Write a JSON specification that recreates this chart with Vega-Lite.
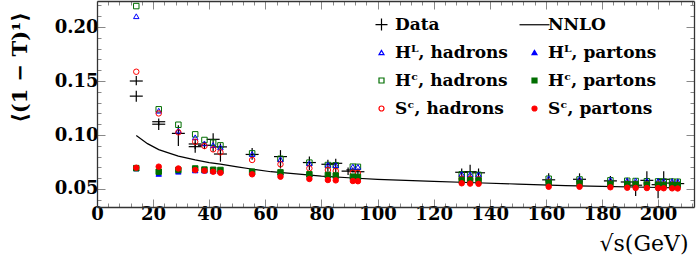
{
  "$schema": "https://vega.github.io/schema/vega-lite/v6.json",
  "width": 597,
  "height": 206,
  "autosize": {"type": "none"},
  "padding": {"left": 97, "top": 1, "right": 3, "bottom": 58},
  "background": "white",
  "config": {
    "view": {"stroke": null},
    "axis": {"domainColor": "#333", "domainWidth": 1.3, "tickColor": "#888", "tickWidth": 1, "labelFont": "DejaVu Serif", "labelFontWeight": "bold", "labelFontSize": 18, "labelColor": "black", "grid": false, "labelOverlap": false, "labelFlush": false, "titleColor": "black"},
    "legend": {"orient": "none", "legendX": 276, "legendY": 15, "columns": 2, "direction": "horizontal", "padding": 0, "symbolSize": 25, "symbolStrokeWidth": 1.2, "symbolOpacity": 1, "labelFont": "DejaVu Serif", "labelFontWeight": "bold", "labelFontSize": 17, "labelColor": "black", "labelOffset": 5, "rowPadding": 10, "columnPadding": 9, "labelLimit": 300}
  },
  "datasets": {
    "nnlo": [
      {"E": 14, "v": 0.0995}, {"E": 18, "v": 0.0920}, {"E": 22, "v": 0.0865}, {"E": 26, "v": 0.0830}, {"E": 29, "v": 0.0805},
      {"E": 35, "v": 0.0770}, {"E": 40, "v": 0.0745}, {"E": 44, "v": 0.0730}, {"E": 50, "v": 0.0705}, {"E": 55, "v": 0.0685},
      {"E": 62, "v": 0.0660}, {"E": 70, "v": 0.0642}, {"E": 80, "v": 0.0620}, {"E": 91.2, "v": 0.0602}, {"E": 100, "v": 0.0590},
      {"E": 120, "v": 0.0570}, {"E": 135, "v": 0.0558}, {"E": 150, "v": 0.0546}, {"E": 167, "v": 0.0532}, {"E": 180, "v": 0.0524},
      {"E": 200, "v": 0.0514}, {"E": 207, "v": 0.0510}
    ],
    "exp": [
      {"E": 14, "v": 0.150, "lo": 0.146, "hi": 0.1546},
      {"E": 14, "v": 0.136, "lo": 0.1308, "hi": 0.141},
      {"E": 22, "v": 0.1123, "lo": 0.1087, "hi": 0.1154},
      {"E": 22, "v": 0.110, "lo": 0.1046, "hi": 0.113},
      {"E": 29, "v": 0.1015, "lo": 0.0898, "hi": 0.109},
      {"E": 35, "v": 0.0917, "lo": 0.087, "hi": 0.096},
      {"E": 35, "v": 0.0892, "lo": 0.0836, "hi": 0.093},
      {"E": 38.3, "v": 0.0905, "lo": 0.087, "hi": 0.094},
      {"E": 41.4, "v": 0.096, "lo": 0.0845, "hi": 0.1016},
      {"E": 44, "v": 0.089, "lo": 0.085, "hi": 0.0923},
      {"E": 44, "v": 0.0824, "lo": 0.0753, "hi": 0.086},
      {"E": 55.3, "v": 0.082, "lo": 0.077, "hi": 0.088},
      {"E": 65.4, "v": 0.080, "lo": 0.069, "hi": 0.086},
      {"E": 75.7, "v": 0.0745, "lo": 0.0676, "hi": 0.080},
      {"E": 82.3, "v": 0.0729, "lo": 0.066, "hi": 0.077},
      {"E": 85.1, "v": 0.0738, "lo": 0.065, "hi": 0.078},
      {"E": 89.5, "v": 0.0665, "lo": 0.063, "hi": 0.070},
      {"E": 91.2, "v": 0.0677, "lo": 0.0655, "hi": 0.070},
      {"E": 93, "v": 0.066, "lo": 0.063, "hi": 0.069},
      {"E": 130, "v": 0.0655, "lo": 0.062, "hi": 0.069},
      {"E": 133, "v": 0.066, "lo": 0.0585, "hi": 0.0725},
      {"E": 136, "v": 0.065, "lo": 0.061, "hi": 0.069},
      {"E": 161, "v": 0.0585, "lo": 0.0525, "hi": 0.0645},
      {"E": 172, "v": 0.059, "lo": 0.053, "hi": 0.0645},
      {"E": 183, "v": 0.0575, "lo": 0.0535, "hi": 0.062},
      {"E": 189, "v": 0.0565, "lo": 0.053, "hi": 0.0605},
      {"E": 192, "v": 0.0535, "lo": 0.0435, "hi": 0.058},
      {"E": 196, "v": 0.058, "lo": 0.0525, "hi": 0.0665},
      {"E": 200, "v": 0.054, "lo": 0.0415, "hi": 0.060},
      {"E": 202, "v": 0.059, "lo": 0.054, "hi": 0.0665},
      {"E": 205, "v": 0.0555, "lo": 0.0515, "hi": 0.060},
      {"E": 207, "v": 0.055, "lo": 0.0505, "hi": 0.0595}
    ],
    "mc": [
      {"E": 14, "series": "Hᶜ, hadrons", "v": 0.2194}, {"E": 22, "series": "Hᶜ, hadrons", "v": 0.1238}, {"E": 29, "series": "Hᶜ, hadrons", "v": 0.1095},
      {"E": 35, "series": "Hᶜ, hadrons", "v": 0.1006}, {"E": 38.3, "series": "Hᶜ, hadrons", "v": 0.0954}, {"E": 41.4, "series": "Hᶜ, hadrons", "v": 0.0929},
      {"E": 44, "series": "Hᶜ, hadrons", "v": 0.0904}, {"E": 55.3, "series": "Hᶜ, hadrons", "v": 0.0830}, {"E": 65.4, "series": "Hᶜ, hadrons", "v": 0.0780},
      {"E": 75.7, "series": "Hᶜ, hadrons", "v": 0.0744}, {"E": 82.3, "series": "Hᶜ, hadrons", "v": 0.0722}, {"E": 85.1, "series": "Hᶜ, hadrons", "v": 0.0719},
      {"E": 91.2, "series": "Hᶜ, hadrons", "v": 0.0707}, {"E": 93, "series": "Hᶜ, hadrons", "v": 0.0705}, {"E": 130, "series": "Hᶜ, hadrons", "v": 0.0636},
      {"E": 133, "series": "Hᶜ, hadrons", "v": 0.0633}, {"E": 136, "series": "Hᶜ, hadrons", "v": 0.0631}, {"E": 161, "series": "Hᶜ, hadrons", "v": 0.0595},
      {"E": 172, "series": "Hᶜ, hadrons", "v": 0.0588}, {"E": 183, "series": "Hᶜ, hadrons", "v": 0.0580}, {"E": 189, "series": "Hᶜ, hadrons", "v": 0.0576},
      {"E": 192, "series": "Hᶜ, hadrons", "v": 0.0574}, {"E": 196, "series": "Hᶜ, hadrons", "v": 0.0572}, {"E": 200, "series": "Hᶜ, hadrons", "v": 0.0570},
      {"E": 202, "series": "Hᶜ, hadrons", "v": 0.0569}, {"E": 205, "series": "Hᶜ, hadrons", "v": 0.0568}, {"E": 207, "series": "Hᶜ, hadrons", "v": 0.0567},

      {"E": 14, "series": "Hᴸ, hadrons", "v": 0.2100}, {"E": 22, "series": "Hᴸ, hadrons", "v": 0.1225}, {"E": 29, "series": "Hᴸ, hadrons", "v": 0.1040},
      {"E": 35, "series": "Hᴸ, hadrons", "v": 0.0979}, {"E": 38.3, "series": "Hᴸ, hadrons", "v": 0.0923}, {"E": 41.4, "series": "Hᴸ, hadrons", "v": 0.0907},
      {"E": 44, "series": "Hᴸ, hadrons", "v": 0.0886}, {"E": 55.3, "series": "Hᴸ, hadrons", "v": 0.0824}, {"E": 65.4, "series": "Hᴸ, hadrons", "v": 0.0775},
      {"E": 75.7, "series": "Hᴸ, hadrons", "v": 0.0738}, {"E": 82.3, "series": "Hᴸ, hadrons", "v": 0.0725}, {"E": 85.1, "series": "Hᴸ, hadrons", "v": 0.0722},
      {"E": 91.2, "series": "Hᴸ, hadrons", "v": 0.0707}, {"E": 93, "series": "Hᴸ, hadrons", "v": 0.0705}, {"E": 130, "series": "Hᴸ, hadrons", "v": 0.0639},
      {"E": 133, "series": "Hᴸ, hadrons", "v": 0.0636}, {"E": 136, "series": "Hᴸ, hadrons", "v": 0.0634}, {"E": 161, "series": "Hᴸ, hadrons", "v": 0.0599},
      {"E": 172, "series": "Hᴸ, hadrons", "v": 0.0593}, {"E": 183, "series": "Hᴸ, hadrons", "v": 0.0585}, {"E": 189, "series": "Hᴸ, hadrons", "v": 0.0580},
      {"E": 192, "series": "Hᴸ, hadrons", "v": 0.0578}, {"E": 196, "series": "Hᴸ, hadrons", "v": 0.0576}, {"E": 200, "series": "Hᴸ, hadrons", "v": 0.0574},
      {"E": 202, "series": "Hᴸ, hadrons", "v": 0.0573}, {"E": 205, "series": "Hᴸ, hadrons", "v": 0.0572}, {"E": 207, "series": "Hᴸ, hadrons", "v": 0.0571},

      {"E": 14, "series": "Sᶜ, hadrons", "v": 0.1586}, {"E": 22, "series": "Sᶜ, hadrons", "v": 0.1200}, {"E": 29, "series": "Sᶜ, hadrons", "v": 0.1025},
      {"E": 35, "series": "Sᶜ, hadrons", "v": 0.0938}, {"E": 38.3, "series": "Sᶜ, hadrons", "v": 0.0898}, {"E": 41.4, "series": "Sᶜ, hadrons", "v": 0.0867},
      {"E": 44, "series": "Sᶜ, hadrons", "v": 0.0840}, {"E": 55.3, "series": "Sᶜ, hadrons", "v": 0.0769}, {"E": 65.4, "series": "Sᶜ, hadrons", "v": 0.0729},
      {"E": 75.7, "series": "Sᶜ, hadrons", "v": 0.0691}, {"E": 82.3, "series": "Sᶜ, hadrons", "v": 0.0676}, {"E": 85.1, "series": "Sᶜ, hadrons", "v": 0.0667},
      {"E": 91.2, "series": "Sᶜ, hadrons", "v": 0.0651}, {"E": 93, "series": "Sᶜ, hadrons", "v": 0.0650}, {"E": 130, "series": "Sᶜ, hadrons", "v": 0.0595},
      {"E": 133, "series": "Sᶜ, hadrons", "v": 0.0592}, {"E": 136, "series": "Sᶜ, hadrons", "v": 0.0590}, {"E": 161, "series": "Sᶜ, hadrons", "v": 0.0565},
      {"E": 172, "series": "Sᶜ, hadrons", "v": 0.0558}, {"E": 183, "series": "Sᶜ, hadrons", "v": 0.0550}, {"E": 189, "series": "Sᶜ, hadrons", "v": 0.0547},
      {"E": 192, "series": "Sᶜ, hadrons", "v": 0.0545}, {"E": 196, "series": "Sᶜ, hadrons", "v": 0.0543}, {"E": 200, "series": "Sᶜ, hadrons", "v": 0.0541},
      {"E": 202, "series": "Sᶜ, hadrons", "v": 0.0540}, {"E": 205, "series": "Sᶜ, hadrons", "v": 0.0539}, {"E": 207, "series": "Sᶜ, hadrons", "v": 0.0538},

      {"E": 14, "series": "Hᴸ, partons", "v": 0.0690}, {"E": 22, "series": "Hᴸ, partons", "v": 0.0640}, {"E": 29, "series": "Hᴸ, partons", "v": 0.0660},
      {"E": 35, "series": "Hᴸ, partons", "v": 0.0672}, {"E": 38.3, "series": "Hᴸ, partons", "v": 0.0670}, {"E": 41.4, "series": "Hᴸ, partons", "v": 0.0668},
      {"E": 44, "series": "Hᴸ, partons", "v": 0.0665}, {"E": 55.3, "series": "Hᴸ, partons", "v": 0.0660}, {"E": 65.4, "series": "Hᴸ, partons", "v": 0.0650},
      {"E": 75.7, "series": "Hᴸ, partons", "v": 0.0632}, {"E": 82.3, "series": "Hᴸ, partons", "v": 0.0626}, {"E": 85.1, "series": "Hᴸ, partons", "v": 0.0622},
      {"E": 91.2, "series": "Hᴸ, partons", "v": 0.0612}, {"E": 93, "series": "Hᴸ, partons", "v": 0.0610}, {"E": 130, "series": "Hᴸ, partons", "v": 0.0580},
      {"E": 133, "series": "Hᴸ, partons", "v": 0.0578}, {"E": 136, "series": "Hᴸ, partons", "v": 0.0576}, {"E": 161, "series": "Hᴸ, partons", "v": 0.0556},
      {"E": 172, "series": "Hᴸ, partons", "v": 0.0550}, {"E": 183, "series": "Hᴸ, partons", "v": 0.0545}, {"E": 189, "series": "Hᴸ, partons", "v": 0.0542},
      {"E": 192, "series": "Hᴸ, partons", "v": 0.0540}, {"E": 196, "series": "Hᴸ, partons", "v": 0.0538}, {"E": 200, "series": "Hᴸ, partons", "v": 0.0536},
      {"E": 202, "series": "Hᴸ, partons", "v": 0.0535}, {"E": 205, "series": "Hᴸ, partons", "v": 0.0534}, {"E": 207, "series": "Hᴸ, partons", "v": 0.0533},

      {"E": 14, "series": "Hᶜ, partons", "v": 0.0693}, {"E": 22, "series": "Hᶜ, partons", "v": 0.0660}, {"E": 29, "series": "Hᶜ, partons", "v": 0.0676},
      {"E": 35, "series": "Hᶜ, partons", "v": 0.0690}, {"E": 38.3, "series": "Hᶜ, partons", "v": 0.0680}, {"E": 41.4, "series": "Hᶜ, partons", "v": 0.0678},
      {"E": 44, "series": "Hᶜ, partons", "v": 0.0676}, {"E": 55.3, "series": "Hᶜ, partons", "v": 0.0660}, {"E": 65.4, "series": "Hᶜ, partons", "v": 0.0654},
      {"E": 75.7, "series": "Hᶜ, partons", "v": 0.0636}, {"E": 82.3, "series": "Hᶜ, partons", "v": 0.0630}, {"E": 85.1, "series": "Hᶜ, partons", "v": 0.0625},
      {"E": 91.2, "series": "Hᶜ, partons", "v": 0.0614}, {"E": 93, "series": "Hᶜ, partons", "v": 0.0612}, {"E": 130, "series": "Hᶜ, partons", "v": 0.0583},
      {"E": 133, "series": "Hᶜ, partons", "v": 0.0580}, {"E": 136, "series": "Hᶜ, partons", "v": 0.0578}, {"E": 161, "series": "Hᶜ, partons", "v": 0.0558},
      {"E": 172, "series": "Hᶜ, partons", "v": 0.0552}, {"E": 183, "series": "Hᶜ, partons", "v": 0.0547}, {"E": 189, "series": "Hᶜ, partons", "v": 0.0544},
      {"E": 192, "series": "Hᶜ, partons", "v": 0.0542}, {"E": 196, "series": "Hᶜ, partons", "v": 0.0540}, {"E": 200, "series": "Hᶜ, partons", "v": 0.0538},
      {"E": 202, "series": "Hᶜ, partons", "v": 0.0537}, {"E": 205, "series": "Hᶜ, partons", "v": 0.0536}, {"E": 207, "series": "Hᶜ, partons", "v": 0.0535},

      {"E": 14, "series": "Sᶜ, partons", "v": 0.0697}, {"E": 22, "series": "Sᶜ, partons", "v": 0.0707}, {"E": 29, "series": "Sᶜ, partons", "v": 0.0690},
      {"E": 35, "series": "Sᶜ, partons", "v": 0.0676}, {"E": 38.3, "series": "Sᶜ, partons", "v": 0.0670}, {"E": 41.4, "series": "Sᶜ, partons", "v": 0.0660},
      {"E": 44, "series": "Sᶜ, partons", "v": 0.0650}, {"E": 55.3, "series": "Sᶜ, partons", "v": 0.0636}, {"E": 65.4, "series": "Sᶜ, partons", "v": 0.0614},
      {"E": 75.7, "series": "Sᶜ, partons", "v": 0.0593}, {"E": 82.3, "series": "Sᶜ, partons", "v": 0.0583}, {"E": 85.1, "series": "Sᶜ, partons", "v": 0.0580},
      {"E": 91.2, "series": "Sᶜ, partons", "v": 0.0574}, {"E": 93, "series": "Sᶜ, partons", "v": 0.0572}, {"E": 130, "series": "Sᶜ, partons", "v": 0.0553},
      {"E": 133, "series": "Sᶜ, partons", "v": 0.0550}, {"E": 136, "series": "Sᶜ, partons", "v": 0.0548}, {"E": 161, "series": "Sᶜ, partons", "v": 0.0521},
      {"E": 172, "series": "Sᶜ, partons", "v": 0.0521}, {"E": 183, "series": "Sᶜ, partons", "v": 0.0516}, {"E": 189, "series": "Sᶜ, partons", "v": 0.0512},
      {"E": 192, "series": "Sᶜ, partons", "v": 0.0510}, {"E": 196, "series": "Sᶜ, partons", "v": 0.0509}, {"E": 200, "series": "Sᶜ, partons", "v": 0.0508},
      {"E": 202, "series": "Sᶜ, partons", "v": 0.0507}, {"E": 205, "series": "Sᶜ, partons", "v": 0.0506}, {"E": 207, "series": "Sᶜ, partons", "v": 0.0505}
    ]
  },
  "resolve": {"axis": {"x": "independent", "y": "independent"}},
  "layer": [
    {
      "data": {"name": "nnlo"},
      "mark": {"type": "line", "color": "black", "strokeWidth": 1.2, "clip": true},
      "encoding": {
        "x": {"field": "E", "type": "quantitative", "scale": {"domain": [0, 212.8], "nice": false, "zero": false},
          "axis": {"orient": "bottom", "values": [0,4,8,12,16,20,24,28,32,36,40,44,48,52,56,60,64,68,72,76,80,84,88,92,96,100,104,108,112,116,120,124,128,132,136,140,144,148,152,156,160,164,168,172,176,180,184,188,192,196,200,204,208,212],
            "labelExpr": "datum.value % 20 === 0 ? datum.label : ''",
            "tickSize": {"condition": {"test": "datum.value % 20 === 0", "value": -8}, "value": -4},
            "labelPadding": 6,
            "title": "√s(GeV)", "titleFont": "DejaVu Serif", "titleFontSize": 22, "titleFontWeight": "normal",
            "titleAnchor": "end", "titleAlign": "right", "titleBaseline": "top", "titleX": 591, "titleY": 26}},
        "y": {"field": "v", "type": "quantitative", "scale": {"domain": [0.03333, 0.2241], "nice": false, "zero": false},
          "axis": {"orient": "left", "values": [0.04,0.05,0.06,0.07,0.08,0.09,0.1,0.11,0.12,0.13,0.14,0.15,0.16,0.17,0.18,0.19,0.2,0.21,0.22],
            "labelExpr": "round(datum.value*100) % 5 === 0 ? format(datum.value, '.2f') : ''",
            "tickSize": {"condition": {"test": "round(datum.value*100) % 5 === 0", "value": -8}, "value": -4},
            "labelPadding": 7,
            "title": "⟨(1 − T)¹⟩", "titleFont": "DejaVu Serif", "titleFontSize": 21, "titleFontWeight": "bold",
            "titleAngle": -90, "titleAlign": "center", "titleBaseline": "middle", "titleX": -77, "titleY": 66}}
      }
    },
    {
      "data": {"name": "exp"},
      "mark": {"type": "rule", "color": "black", "strokeWidth": 1.2},
      "encoding": {
        "x": {"field": "E", "type": "quantitative",
          "axis": {"orient": "top", "values": [0,4,8,12,16,20,24,28,32,36,40,44,48,52,56,60,64,68,72,76,80,84,88,92,96,100,104,108,112,116,120,124,128,132,136,140,144,148,152,156,160,164,168,172,176,180,184,188,192,196,200,204,208,212],
            "labels": false, "title": null,
            "tickSize": {"condition": {"test": "datum.value % 20 === 0", "value": -8}, "value": -4}}},
        "y": {"field": "lo", "type": "quantitative",
          "axis": {"orient": "right", "values": [0.04,0.05,0.06,0.07,0.08,0.09,0.1,0.11,0.12,0.13,0.14,0.15,0.16,0.17,0.18,0.19,0.2,0.21,0.22],
            "labels": false, "title": null,
            "tickSize": {"condition": {"test": "round(datum.value*100) % 5 === 0", "value": -8}, "value": -4}}},
        "y2": {"field": "hi"}
      }
    },
    {
      "data": {"name": "exp"},
      "mark": {"type": "tick", "orient": "horizontal", "color": "black", "size": 13, "thickness": 1.2, "opacity": 1},
      "encoding": {
        "x": {"field": "E", "type": "quantitative", "axis": null},
        "y": {"field": "v", "type": "quantitative", "axis": null}
      }
    },
    {
      "data": {"name": "mc"},
      "mark": {"type": "point", "filled": false, "size": 30, "strokeWidth": 1, "opacity": 1},
      "encoding": {
        "x": {"field": "E", "type": "quantitative", "axis": null},
        "y": {"field": "v", "type": "quantitative", "axis": null},
        "shape": {"field": "series", "type": "nominal", "title": null,
          "scale": {"domain": ["Data", "NNLO", "Hᴸ, hadrons", "Hᴸ, partons", "Hᶜ, hadrons", "Hᶜ, partons", "Sᶜ, hadrons", "Sᶜ, partons"],
            "range": ["M-2.4,0L2.4,0M0,-2.4L0,2.4", "M-6,0L6,0", "triangle-up", "triangle-up", "square", "square", "circle", "circle"]}},
        "stroke": {"field": "series", "type": "nominal", "title": null,
          "scale": {"domain": ["Data", "NNLO", "Hᴸ, hadrons", "Hᴸ, partons", "Hᶜ, hadrons", "Hᶜ, partons", "Sᶜ, hadrons", "Sᶜ, partons"],
            "range": ["black", "black", "#0000ff", "#0000ff", "#006e00", "#006e00", "#ff0000", "#ff0000"]}},
        "fill": {"field": "series", "type": "nominal", "title": null,
          "scale": {"domain": ["Data", "NNLO", "Hᴸ, hadrons", "Hᴸ, partons", "Hᶜ, hadrons", "Hᶜ, partons", "Sᶜ, hadrons", "Sᶜ, partons"],
            "range": ["transparent", "transparent", "transparent", "#0000ff", "transparent", "#006e00", "transparent", "#ff0000"]}}
      }
    }
  ]
}
